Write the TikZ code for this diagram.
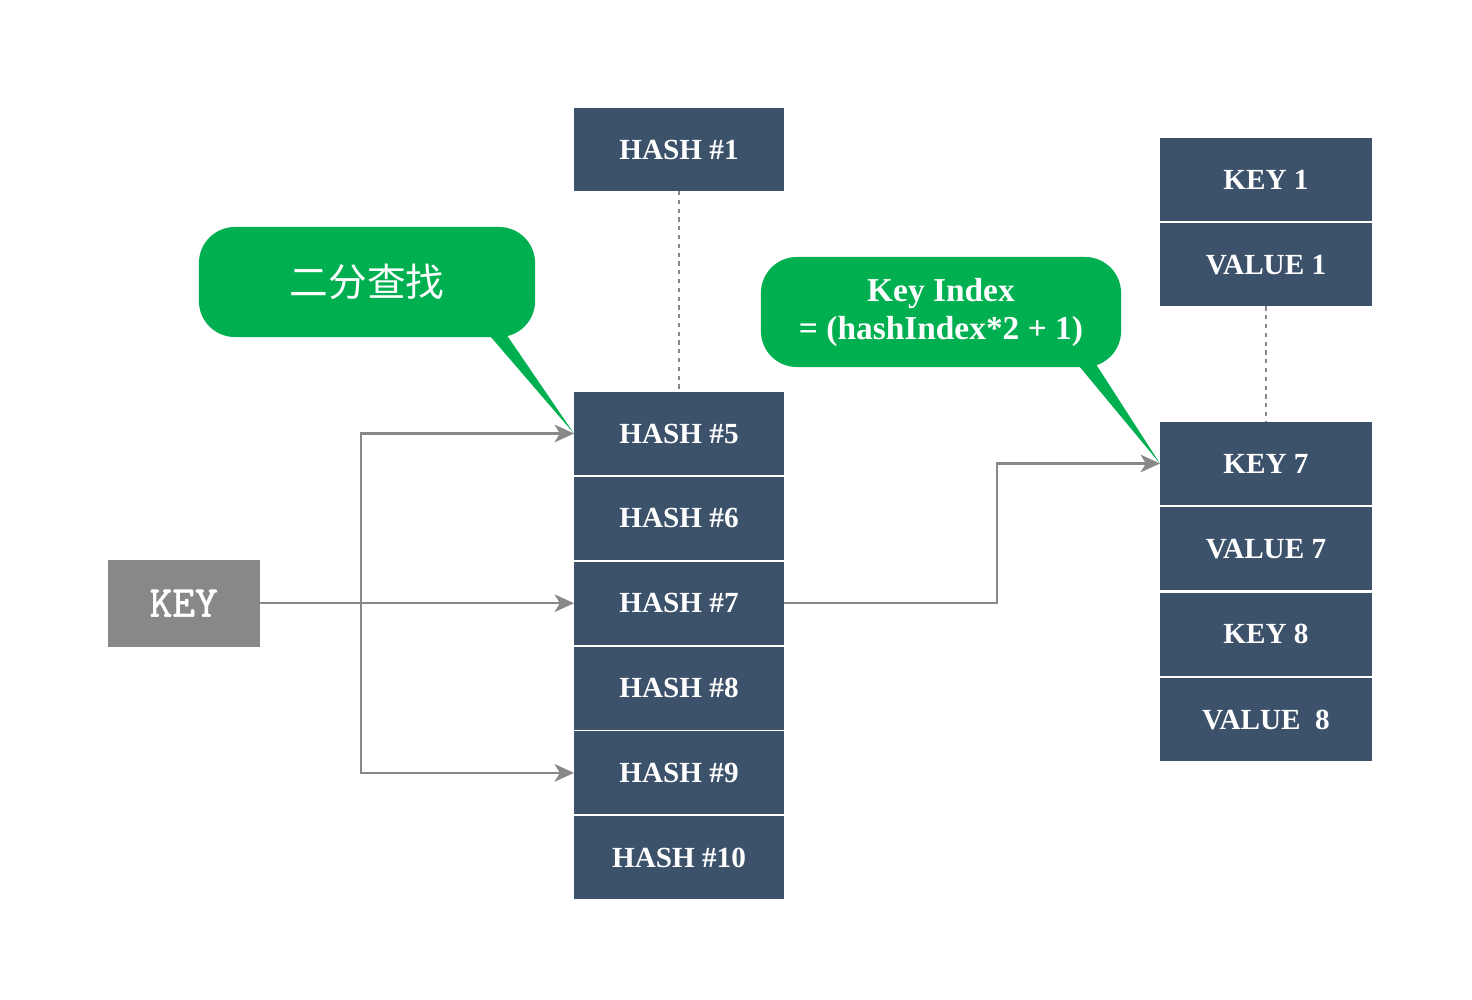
\documentclass[tikz,border=0pt]{standalone}
\usepackage{fontspec}
\setmainfont{Liberation Serif}
\newfontfamily\keyfont[FakeBold=1.6]{Latin Modern Mono}
\newfontfamily\cjkfont{Noto Sans CJK SC}
\usepackage{tikz}
\usetikzlibrary{calc, arrows.meta, positioning}
\definecolor{boxblue}{RGB}{60,81,106}
\definecolor{tipgreen}{RGB}{0,176,80}
\definecolor{linegray}{RGB}{136,136,136}

\begin{document}
\begin{tikzpicture}[x=0.01cm,y=-0.01cm]
	\tikzstyle{hash} = [rectangle, fill=boxblue, text=white, font=\fontsize{8.3}{10}\selectfont\bfseries, minimum width=2.1cm, minimum height=0.83cm, inner sep=0pt, outer sep=0pt]
	\tikzstyle{pair} = [hash, minimum width=2.12cm]
	\tikzstyle{keybox} = [rectangle, fill=linegray, text=white, font=\keyfont\fontsize{12.5}{14}\selectfont, minimum width=1.52cm, minimum height=0.87cm, inner sep=0pt, outer sep=0pt]
	\tikzstyle{bubble} = [rectangle, fill=tipgreen, text=white, rounded corners=0.36cm, inner sep=0pt, align=center, minimum height=1.1cm]
	\tikzstyle{link} = [draw, linegray, line width=0.6pt, -{Stealth[length=5.5pt,width=5pt,inset=1.5pt]}]
	\tikzstyle{dots} = [draw, linegray, line width=0.6pt, dash pattern=on 1.2pt off 1.3pt]

	\useasboundingbox (0,0) rectangle (1472,1000);

	% hash column
	\node[hash] (h1) at (679,149.5) {HASH \#1};
	\node[hash] (h5) at (679,433.5) {HASH \#5};
	\node[hash, below=0.018cm of h5] (h6) {HASH \#6};
	\node[hash, below=0.018cm of h6] (h7) {HASH \#7};
	\node[hash, below=0.018cm of h7] (h8) {HASH \#8};
	\node[hash, below=0.018cm of h8] (h9) {HASH \#9};
	\node[hash, below=0.018cm of h9] (h10) {HASH \#10};

	% key / value column
	\node[pair] (k1) at (1266,179.5) {KEY 1};
	\node[pair, below=0.023cm of k1] (v1) {VALUE 1};
	\node[pair] (k7) at (1266,463.5) {KEY 7};
	\node[pair, below=0.023cm of k7] (v7) {VALUE 7};
	\node[pair, below=0.023cm of v7] (k8) {KEY 8};
	\node[pair, below=0.023cm of k8] (v8) {VALUE~~8};

	% lookup key
	\node[keybox, left=3.14cm of h7] (key) {KEY};

	% gaps in the columns
	\path[dots] (h1.south) -- (h5.north);
	\path[dots] (v1.south) -- (k7.north);

	% binary search
	\coordinate (split) at ($(key.east)+(101,0)$);
	\path[link] (key.east) -- (h7.west);
	\path[link] (split) |- (h5.west);
	\path[link] (split) |- (h9.west);
	\path[link] (h7.east) -- ++(213,0) |- (k7.west);

	% callouts
	\node[bubble, minimum width=3.36cm, font=\cjkfont\fontsize{11}{13}\selectfont] (search) at (367,282) {二分查找};
	\fill[tipgreen] ($(search.south east)+(-46,-2)$) -- (h5.west) -- ($(search.south east)+(-34,-10)$) -- cycle;

	\node[bubble, minimum width=3.6cm, font=\fontsize{9.5}{10.8}\selectfont\bfseries] (index) at (941,312) {Key Index\\= (hashIndex*2 + 1)};
	\fill[tipgreen] ($(index.south east)+(-43,-2)$) -- (k7.west) -- ($(index.south east)+(-30,-10)$) -- cycle;
\end{tikzpicture}
\end{document}
